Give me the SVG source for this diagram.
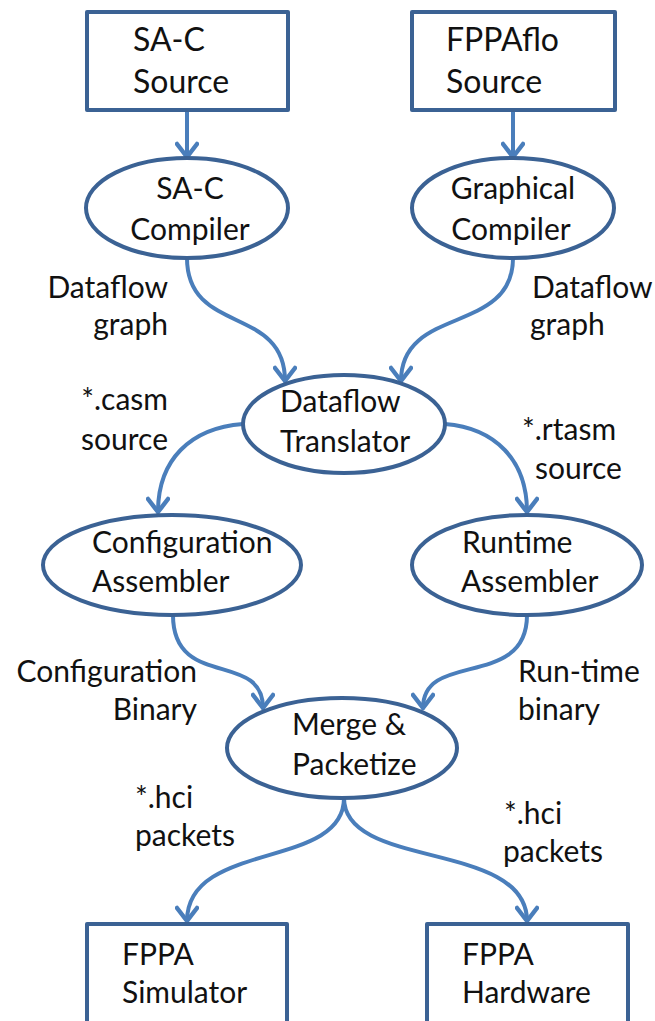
<svg xmlns="http://www.w3.org/2000/svg" width="655" height="1021" viewBox="0 0 655 1021">
<defs>
<style>
.node{fill:#fff;stroke:#3b6294;stroke-width:4;stroke-linejoin:round}
.edge{fill:none;stroke:#4a7ebb;stroke-width:4;stroke-linecap:round}
text{font-family:Lato,"Open Sans","Liberation Sans",sans-serif;font-size:30px;fill:#111}
.big{font-size:32px}
.m{text-anchor:middle}
.r{text-anchor:end}
</style>
<marker id="ah" markerUnits="userSpaceOnUse" viewBox="-16 -12 20 24" markerWidth="20" markerHeight="24" refX="0" refY="0" orient="auto">
<path d="M-13,-10 L0,0 L-13,10" fill="none" stroke="#4a7ebb" stroke-width="4.5" stroke-linecap="round" stroke-linejoin="round"/>
</marker>
</defs>
<rect width="655" height="1021" fill="#fff"/>
<g id="connectors">
<path class="edge" d="M187,112 L187,157" marker-end="url(#ah)"/>
<path class="edge" d="M513,112 L513,157" marker-end="url(#ah)"/>
<path class="edge" d="M187,258 C187,335 285,305 285,381" marker-end="url(#ah)"/>
<path class="edge" d="M513,258 C513,335 401,305 401,381" marker-end="url(#ah)"/>
<path class="edge" d="M243,424 C190,428 158,460 158,512" marker-end="url(#ah)"/>
<path class="edge" d="M445,424 C495,428 527,460 527,512" marker-end="url(#ah)"/>
<path class="edge" d="M173,615 C173,690 263,650 263,708" marker-end="url(#ah)"/>
<path class="edge" d="M527,615 C527,690 423,650 423,708" marker-end="url(#ah)"/>
<path class="edge" d="M344,798 C344,870 187,840 187,921" marker-end="url(#ah)"/>
<path class="edge" d="M344,798 C344,870 527,840 527,921" marker-end="url(#ah)"/>
</g>
<g id="sac-source">
<rect class="node" x="87" y="12" width="201" height="98"/>
<text class="big" x="133" y="51">SA-C</text>
<text class="big" x="133" y="93">Source</text>
</g>
<g id="fppaflo-source">
<rect class="node" x="412" y="12" width="203" height="98"/>
<text class="big" x="446" y="51">FPPAflo</text>
<text class="big" x="446" y="93">Source</text>
</g>
<g id="sac-compiler">
<ellipse class="node" cx="187" cy="208" rx="101" ry="50"/>
<text class="m" x="190" y="199">SA-C</text>
<text class="m" x="190" y="240">Compiler</text>
</g>
<g id="graphical-compiler">
<ellipse class="node" cx="513" cy="208" rx="101" ry="50"/>
<text class="m" x="513" y="199">Graphical</text>
<text class="m" x="511" y="240">Compiler</text>
</g>
<g id="dataflow-translator">
<ellipse class="node" cx="344" cy="424" rx="101" ry="49"/>
<text x="280" y="412">Dataflow</text>
<text x="280" y="452">Translator</text>
</g>
<g id="config-assembler">
<ellipse class="node" cx="172" cy="565" rx="129" ry="50"/>
<text x="92" y="553">Configuration</text>
<text x="92" y="592">Assembler</text>
</g>
<g id="runtime-assembler">
<ellipse class="node" cx="527" cy="565" rx="115" ry="50"/>
<text x="462" y="553">Runtime</text>
<text x="461" y="592">Assembler</text>
</g>
<g id="merge-packetize">
<ellipse class="node" cx="342" cy="748" rx="115" ry="50"/>
<text x="292" y="735">Merge &amp;</text>
<text x="292" y="775">Packetize</text>
</g>
<g id="fppa-simulator">
<rect class="node" x="87" y="924" width="200" height="120"/>
<text x="122" y="965">FPPA</text>
<text x="122" y="1003">Simulator</text>
</g>
<g id="fppa-hardware">
<rect class="node" x="427" y="924" width="201" height="120"/>
<text x="462" y="965">FPPA</text>
<text x="462" y="1003">Hardware</text>
</g>
<g id="labels">
<text class="r" x="168" y="298">Dataflow</text>
<text class="r" x="168" y="335">graph</text>
<text x="532" y="298">Dataflow</text>
<text x="530" y="335">graph</text>
<text class="r" x="168" y="410">*.casm</text>
<text class="r" x="168" y="450">source</text>
<text x="522" y="440">*.rtasm</text>
<text x="535" y="479">source</text>
<text class="r" x="197" y="682">Configuration</text>
<text class="r" x="197" y="720">Binary</text>
<text x="518" y="682">Run-time</text>
<text x="518" y="720">binary</text>
<text x="135" y="808">*.hci</text>
<text x="135" y="846">packets</text>
<text x="504" y="824">*.hci</text>
<text x="503" y="862">packets</text>
</g>
</svg>
